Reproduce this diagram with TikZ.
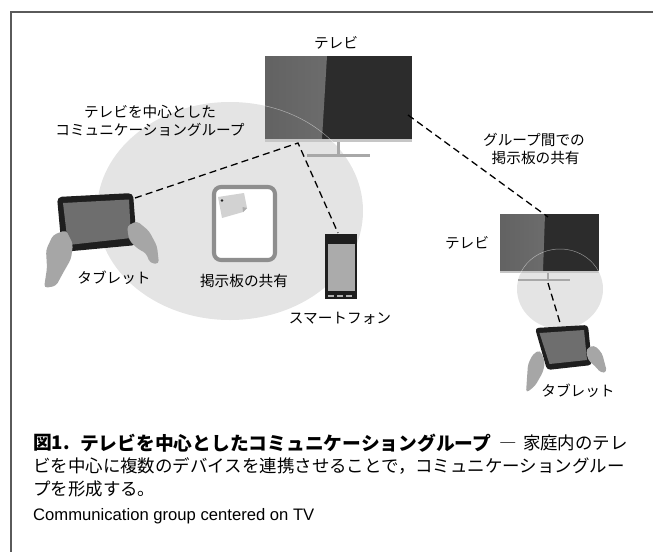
\documentclass[tikz,border=0pt]{standalone}
\usepackage{fontspec}
\setmainfont{Liberation Sans}
\newfontfamily\jpfont{Noto Sans CJK JP}
\usepackage{tikz}
\usetikzlibrary{calc}
\definecolor{framegray}{HTML}{5A5A5A}
\definecolor{groupgray}{HTML}{E4E4E4}
\definecolor{handgray}{HTML}{A6A6A6}
\definecolor{bodyblack}{HTML}{1E1E1E}
\definecolor{tabscreen}{HTML}{6E6E6E}
\definecolor{phonescreen}{HTML}{ABABAB}
\definecolor{tvdark}{HTML}{2C2C2C}
\definecolor{tvlight}{HTML}{6C6C6C}
\definecolor{standgray}{HTML}{A8A8A8}
\definecolor{boardgray}{HTML}{8E8E8E}
\definecolor{notegray}{HTML}{D2D2D2}

\tikzset{
  lbl/.style={font=\jpfont\fontsize{12.5}{15.3}\selectfont, inner sep=0pt, align=center},
  captxt/.style={anchor=west, inner sep=0pt, font=\jpfont\fontsize{14.9}{18}\selectfont},
  caphead/.style={captxt, font=\jpfont\bfseries\fontsize{16}{18}\selectfont},
  link/.style={line width=1.1pt, dash pattern=on 6pt off 3.6pt},
  hand/.style={fill=handgray, rounded corners=3pt},
}

\begin{document}
\begin{tikzpicture}[x=0.03cm, y=-0.03cm]
  \useasboundingbox (0,0) rectangle (653,552);
  % frame, open to the right and below
  \draw[framegray, line width=1.1pt] (653,12) -- (11,12) -- (11,552);

  % group areas
  \fill[groupgray] (230,211) ellipse [x radius=133, y radius=109];
  \fill[groupgray] (560,289) ellipse [x radius=43, y radius=40];

  % main TV
  \fill[tvdark] (265,56) rectangle (412,139);
  \shade[left color=tvlight!85!tvdark, right color=tvlight] (265,56) -- (327,56) -- (322,139) -- (265,139) -- cycle;
  \fill[gray!45] (265,139) rectangle (412,142);
  \fill[standgray] (336.5,142) rectangle (339.5,154);
  \fill[standgray] (307,153.5) rectangle (370,156.5);
  \begin{scope}
    \clip (265,56) rectangle (412,142);
    \draw[white, opacity=0.5, line width=0.4pt] (230,211) ellipse [x radius=133, y radius=109];
  \end{scope}

  % second TV
  \fill[tvdark] (500,214) rectangle (599,271);
  \shade[left color=tvlight!85!tvdark, right color=tvlight] (500,214) -- (545,214) -- (543,271) -- (500,271) -- cycle;
  \fill[gray!45] (500,271) rectangle (599,273);
  \fill[standgray] (547,273) rectangle (549,280);
  \fill[standgray] (518,279) rectangle (570,281);
  \begin{scope}
    \clip (500,214) rectangle (599,273);
    \draw[white, opacity=0.5, line width=0.4pt] (560,289) ellipse [x radius=43, y radius=40];
  \end{scope}

  % tablet with hands (left group)
  \fill[bodyblack, rounded corners=4pt] (57,197) -- (133,193) -- (137,245) -- (62,252) -- cycle;
  \fill[tabscreen] (63,203) -- (129,199.5) -- (131,238) -- (68,245) -- cycle;
  \fill[hand] (66,230) -- (73,244) -- (71,259) -- (63,273) -- (56,286) -- (44,288) -- (47,268) -- (46,250) -- (53,235) -- cycle;
  \fill[hand] (127,226) -- (137,221) -- (149,231) -- (157,246) -- (159,264) -- (150,263) -- (146,253) -- (138,249) -- (129,240) -- cycle;

  % shared board
  \draw[boardgray, line width=3.5pt, fill=white, rounded corners=6pt] (214,187) rectangle (275,260);
  \fill[notegray] (218,197) -- (244,193) -- (247,208) -- (243,212) -- (222,218) -- cycle;
  \fill[gray!65] (247,208) -- (243,212) -- (242.5,207) -- cycle;
  \fill[gray!25!black] (222,200.5) circle (1.2pt);

  % smartphone
  \fill[bodyblack] (325,234) rectangle (357,299);
  \fill[phonescreen] (327.5,244) rectangle (354.5,291);
  \foreach \x in {328,337,346}
    \fill[gray!60] (\x,295.3) rectangle ++(6,1.5);

  % tablet with hands (right group)
  \fill[bodyblack, rounded corners=3pt] (535,328) -- (588,325) -- (592,365) -- (547,370) -- cycle;
  \fill[tabscreen] (539.5,333) -- (584,330) -- (587,360) -- (549.5,364) -- cycle;
  \fill[hand] (540,350) -- (545,362) -- (543,372) -- (535,386) -- (526,393) -- (527,378) -- (528,364) -- (533,354) -- cycle;
  \fill[hand] (586,349) -- (594,345) -- (602,353) -- (607,372) -- (601,373) -- (595,366) -- (588,360) -- cycle;

  % links
  \coordinate (tvA-foot) at (298,143);
  \coordinate (tvA-side) at (408,115);
  \coordinate (tabA-top) at (135,198);
  \coordinate (phone-top) at (338,233);
  \coordinate (tvB-top) at (548,217);
  \coordinate (tvB-foot) at (548,283);
  \coordinate (tabB-top) at (561,326);
  \draw[link] (tabA-top) -- (tvA-foot) -- (phone-top);
  \draw[link] (tvA-side) -- (tvB-top);
  \draw[link] (tvB-foot) -- (tabB-top);

  % labels
  \node[lbl] (tvA-lbl) at (336,43) {テレビ};
  \node[lbl] (grpA-lbl) at (150,121) {テレビを中心とした\\コミュニケーショングループ};
  \node[lbl] (tabA-lbl) at (114,278) {タブレット};
  \node[lbl] (board-lbl) at (244,281) {掲示板の共有};
  \node[lbl] (phone-lbl) at (340,318) {スマートフォン};
  \node[lbl] (share-lbl) at (534,149) {グループ間での\\\ 掲示板の共有};
  \node[lbl] (tvB-lbl) at (467,243) {テレビ};
  \node[lbl] (tabB-lbl) at (578,391) {タブレット};

  % caption
  \node[caphead] (cap-num) at (33,443) {図1.};
  \node[caphead] (cap-head) at (80,443) {テレビを中心としたコミュニケーショングループ};
  \node[captxt, anchor=east] (cap-tail) at (628,443) {―\hspace{0.35em}家庭内のテレ};
  \node[captxt] (cap-two) at (33,466) {ビを中心に複数のデバイスを連携させることで，コミュニケーショングルー};
  \node[captxt] (cap-three) at (33,489) {プを形成する。};
  \node[captxt, font=\fontsize{14.2}{17}\selectfont] (cap-en) at (33,516) {Communication group centered on TV};
\end{tikzpicture}
\end{document}
